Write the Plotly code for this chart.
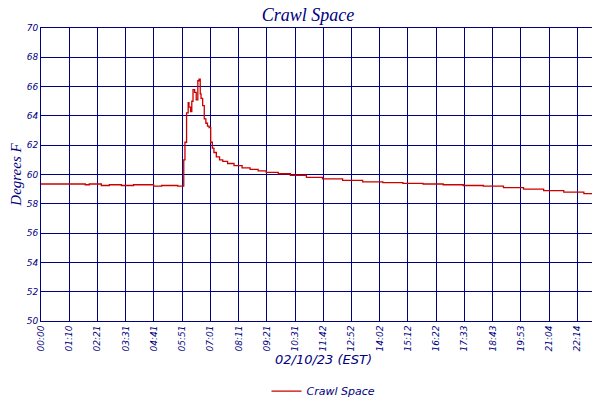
import plotly.graph_objects as go

tick_labels = ["00:00","01:10","02:21","03:31","04:41","05:51","07:01","08:11","09:21","10:31",
               "11:42","12:52","14:02","15:12","16:22","17:33","18:43","19:53","21:04","22:14","23:24"]
tick_minutes = [i*70.2 for i in range(len(tick_labels))]

minutes = [0, 100, 110, 120, 150, 170, 200, 230, 280, 300, 340, 352, 355, 358, 362, 366, 368, 372,
           375, 378, 382, 386, 390, 393, 396, 398, 402, 406, 410, 414, 418, 422, 426, 430, 436, 444,
           452, 464, 480, 500, 520, 540, 560, 590, 620, 660, 700, 750, 800, 850, 900, 950, 1000,
           1050, 1100, 1150, 1200, 1250, 1300, 1350, 1380, 1404]
temps = [59.35, 59.35, 59.3, 59.35, 59.25, 59.3, 59.25, 59.3, 59.2, 59.25, 59.2, 59.2, 61.0, 62.2,
         64.2, 64.9, 64.6, 64.3, 65.0, 65.8, 65.6, 65.1, 66.4, 66.5, 65.5, 65.2, 64.7, 63.8, 63.5,
         63.3, 63.2, 62.2, 61.8, 61.5, 61.2, 61.0, 60.9, 60.75, 60.6, 60.45, 60.35, 60.25, 60.15,
         60.05, 59.95, 59.8, 59.7, 59.6, 59.5, 59.45, 59.4, 59.35, 59.3, 59.25, 59.2, 59.1, 59.0,
         58.9, 58.8, 58.7, 58.6, 58.5]

navy = "#000080"
fig = go.Figure()
fig.add_trace(go.Scatter(x=minutes, y=temps, mode="lines", line=dict(color="#cc0000", width=1.3, shape="hv"),
                         name="Crawl Space"))
fig.update_layout(
    width=600, height=400, margin=dict(l=33, r=2, t=20, b=67),
    paper_bgcolor="white", plot_bgcolor="white",
    title=dict(text="Crawl Space", x=0.5, y=0.998, xanchor="center", yanchor="top",
               font=dict(family="Liberation Serif", size=18, color=navy, style="italic")),
    showlegend=True,
    legend=dict(orientation="h", x=0.5, xanchor="center", y=-0.19, yanchor="top",
                font=dict(family="DejaVu Sans", size=11, color=navy, style="italic")),
    xaxis=dict(range=[0, 1405], tickvals=tick_minutes, ticktext=tick_labels, tickangle=-90, automargin=False,
               showgrid=True, gridcolor=navy, gridwidth=1, showline=True, linecolor=navy, mirror=True,
               ticks="", tickfont=dict(family="DejaVu Sans", size=9, color=navy, style="italic"),
               title=dict(text="02/10/23 (EST)", standoff=4,
                          font=dict(family="DejaVu Sans", size=13, color=navy, style="italic"))),
    yaxis=dict(range=[50, 70], dtick=2, showgrid=True, gridcolor=navy, gridwidth=1, showline=True, automargin=False,
               linecolor=navy, mirror=True, ticks="", zeroline=False,
               tickfont=dict(family="DejaVu Sans", size=9, color=navy, style="italic"),
               title=dict(text="Degrees F", standoff=2,
                          font=dict(family="Liberation Serif", size=15, color=navy, style="italic"))),
)
fig.write_html("out.html")
